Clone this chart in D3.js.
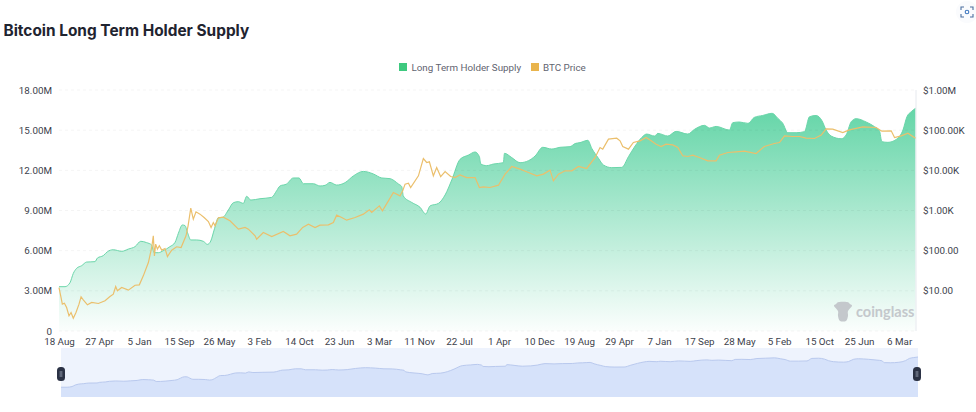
<!DOCTYPE html>
<html><head><meta charset="utf-8">
<script src="https://cdn.jsdelivr.net/npm/d3@7/dist/d3.min.js"></script>
<style>html,body{margin:0;padding:0;background:#fff;overflow:hidden}svg{display:block}text{font-family:Roboto,sans-serif}</style>
</head><body><svg id="c" width="976" height="412"></svg>
<script>
const title = "Bitcoin Long Term Holder Supply";
const seriesNames = ["Long Term Holder Supply","BTC Price"];
const tickDays = [0,252,504,756,1008,1260,1512,1764,2016,2268,2520,2772,3024,3276,3528,3780,4032,4284,4536,4788,5040,5292];
const tickLabels = ["18 Aug","27 Apr","5 Jan","15 Sep","26 May","3 Feb","14 Oct","23 Jun","3 Mar","11 Nov","22 Jul","1 Apr","10 Dec","19 Aug","29 Apr","7 Jan","17 Sep","28 May","5 Feb","15 Oct","25 Jun","6 Mar"];
const supplyTicks = [0,3,6,9,12,15,18];
const supplyTickLabels = ["0","3.00M","6.00M","9.00M","12.00M","15.00M","18.00M"];
const priceTicks = [10,100,1000,10000,100000,1000000];
const priceTickLabels = ["$10.00","$100.00","$1.00K","$10.00K","$100.00K","$1.00M"];
const supplyDays = [0,38,69,90,111,143,174,227,242,279,305,342,395,437,479,515,552,584,599,626,657,699,731,752,777,794,811,830,867,909,935,956,977,1004,1031,1067,1098,1130,1161,1182,1208,1266,1340,1371,1392,1434,1476,1512,1539,1602,1644,1676,1707,1749,1802,1854,1917,1980,2033,2085,2138,2159,2169,2222,2274,2310,2337,2390,2432,2474,2526,2579,2621,2648,2657,2694,2736,2799,2806,2852,2904,2957,2999,3047,3104,3156,3219,3251,3282,3331,3356,3398,3429,3482,3545,3587,3629,3671,3702,3751,3772,3835,3887,3961,4003,4066,4097,4139,4223,4244,4286,4339,4381,4433,4492,4528,4559,4591,4643,4696,4727,4769,4807,4832,4864,4927,4958,4990,5021,5084,5137,5168,5183,5221,5274,5316,5341,5368,5395];
const supplyValues = [3.31,3.31,3.6,4.3,4.68,4.88,5.15,5.18,5.45,5.63,5.92,6.07,5.95,6.12,6.3,6.7,6.6,6.42,5.85,5.85,6.0,6.3,6.62,7.3,7.92,7.87,7.3,6.8,6.8,6.7,6.47,6.72,7.54,8.46,8.49,9.04,9.58,9.66,9.53,10.06,9.78,9.88,9.98,10.48,10.83,10.98,11.43,11.43,11.0,11.0,10.83,10.88,11.1,10.9,11.08,11.58,11.92,11.73,11.43,11.38,10.98,10.78,10.08,9.6,9.24,8.74,9.34,9.53,10.16,11.28,12.82,13.14,13.37,13.02,12.47,12.35,12.47,12.57,13.27,12.95,12.57,12.72,13.07,13.72,13.59,13.72,13.77,14.0,14.07,14.24,13.64,12.9,12.4,12.2,12.22,13.02,13.82,14.46,14.71,14.56,14.76,14.56,14.91,14.71,15.06,15.36,15.16,15.28,15.01,15.56,15.61,15.51,15.96,16.1,16.26,15.88,15.51,14.81,14.81,14.89,16.0,16.1,15.68,15.01,14.56,14.36,14.64,15.63,15.86,15.61,15.26,14.96,14.14,14.09,14.31,15.01,16.0,16.38,16.63];
const priceDays = [0,13,21,34,48,63,76,90,107,126,139,153,179,206,248,290,321,342,357,368,395,437,479,506,531,563,584,594,601,609,620,632,647,668,683,710,741,769,800,813,830,846,863,888,914,941,958,972,983,1004,1035,1077,1130,1172,1193,1235,1245,1287,1340,1413,1455,1497,1535,1571,1613,1644,1697,1728,1749,1781,1812,1865,1917,1955,1970,2018,2037,2075,2106,2148,2165,2180,2201,2215,2264,2295,2316,2333,2358,2379,2404,2432,2467,2495,2526,2568,2621,2648,2673,2715,2768,2810,2852,2904,2957,3009,3051,3093,3114,3146,3188,3230,3272,3324,3377,3408,3425,3461,3513,3534,3551,3587,3618,3660,3698,3730,3761,3793,3824,3866,3898,3929,3961,3992,4034,4087,4139,4160,4213,4265,4317,4391,4443,4506,4538,4570,4622,4664,4706,4759,4801,4832,4874,4937,4979,5063,5147,5183,5242,5263,5305,5347,5395];
const priceValues = [12.1,6.8,4.66,4.93,3.85,2.39,2.89,2.09,2.89,4.66,7.1,5.97,4.48,5.13,4.84,5.64,7.2,8.26,12.8,10,12.1,10.4,13.8,14.1,23.6,50.7,120,234,74.3,145,109,132,103,113,71.6,103,125,120,234,415,1140,608,927,811,670,532,378,502,415,656,682,553,343,378,343,234,193,283,225,300,234,258,378,457,378,431,438,502,766,670,574,670,811,1040,892,1306,981,1742,2805,2317,3090,4529,4790,3740,7295,19700,15670,16300,7295,11750,7010,9330,7010,6610,7720,6610,6610,3740,3880,3740,4265,8040,12450,10700,8830,7295,8040,10100,5480,8040,9730,9730,12450,11120,20900,37000,33650,59700,63100,54200,39200,33650,49300,54200,65600,54200,44800,39200,44800,43100,37000,23000,22100,23900,20900,17200,17200,23900,27800,28800,30000,26200,39200,46500,49300,72300,69500,69500,63100,62100,75200,107900,105900,87500,101900,121000,116500,94400,96200,65600,72300,84100,63100];

const svg = d3.select("#c");
const defs = svg.append("defs");
const x = d3.scaleLinear().domain([0,5395]).range([59,915.5]);
const y = d3.scaleLinear().domain([0,18]).range([331,90]);
const yP = d3.scaleLog().domain([1,1000000]).range([331,90]);
const supply = supplyDays.map((d,i)=>[d,supplyValues[i]]);
const price = priceDays.map((d,i)=>[d,priceValues[i]]);

const g = defs.append("linearGradient").attr("id","ga").attr("gradientUnits","userSpaceOnUse")
  .attr("x1",0).attr("x2",0).attr("y1",y(16.6)).attr("y2",y(0));
g.append("stop").attr("offset",0).attr("stop-color","#3ecb92").attr("stop-opacity",.8);
g.append("stop").attr("offset",1).attr("stop-color","#3ecb92").attr("stop-opacity",.02);

svg.append("text").attr("x",3.5).attr("y",36).attr("font-size",15.4).attr("font-weight",700)
  .attr("fill","#1f2430").style("font-family","Inter").text(title);

// legend
const lg = svg.append("g").attr("font-size",9.8).attr("fill","#5f6470");
lg.append("rect").attr("x",399).attr("y",63).attr("width",8).attr("height",8).attr("fill","#3ec97f");
lg.append("text").attr("x",411.5).attr("y",71).text(seriesNames[0]);
lg.append("rect").attr("x",531).attr("y",63).attr("width",8).attr("height",8).attr("fill","#e9b44c");
lg.append("text").attr("x",543).attr("y",71).text(seriesNames[1]);

// area
svg.append("path").datum(supply).attr("fill","url(#ga)")
  .attr("d",d3.area().curve(d3.curveMonotoneX).x(d=>x(d[0])).y0(y(0)).y1(d=>y(d[1])));
svg.append("path").datum(supply).attr("fill","none").attr("stroke","#6bd6aa").attr("stroke-width",1)
  .attr("d",d3.line().curve(d3.curveMonotoneX).x(d=>x(d[0])).y(d=>y(d[1])));

// grid
svg.append("g").selectAll("line").data(supplyTicks).join("line")
  .attr("x1",59).attr("x2",915.5).attr("y1",d=>y(d)).attr("y2",d=>y(d))
  .attr("stroke","#000").attr("stroke-opacity",.045).attr("stroke-dasharray","3 3");
svg.append("line").attr("x1",916).attr("x2",916).attr("y1",90).attr("y2",331).attr("stroke","#e6e9ee");

// watermark
const wm = svg.append("g").attr("fill","#c4c8cc");
wm.append("path").datum([[-7,-8],[-4,-10],[4,-10],[7,-8],[9,-6],[5,-1],[5,4],[3,9],[-3,9],[-5,4],[-5,-1],[-9,-6]])
  .attr("transform","translate(843,312)").attr("d",d3.line().curve(d3.curveCardinalClosed));
wm.append("text").attr("x",856).attr("y",317).attr("font-size",14.5).attr("font-weight",700).text("coinglass").style("font-family","Lato");

// price
svg.append("path").datum(price).attr("fill","none").attr("stroke","#ebbf6c").attr("stroke-width",1.2)
  .attr("d",d3.line().x(d=>x(d[0])).y(d=>yP(d[1])));

// axes
function style(a){a.select(".domain").remove();a.selectAll(".tick line").remove();
  a.selectAll("text").attr("fill","#3c414b").attr("font-size",9.8).style("font-family","Roboto");}
svg.append("g").attr("transform","translate(0,331)")
  .call(d3.axisBottom(x).tickValues(tickDays).tickFormat((d,i)=>tickLabels[i]).tickSize(0).tickPadding(7)).call(style);
svg.append("g").attr("transform","translate(52,0)")
  .call(d3.axisLeft(y).tickValues(supplyTicks).tickFormat((d,i)=>supplyTickLabels[i]).tickSize(0).tickPadding(0)).call(style);
svg.append("g").attr("transform","translate(923,0)")
  .call(d3.axisRight(yP).tickValues(priceTicks).tickFormat((d,i)=>priceTickLabels[i]).tickSize(0).tickPadding(0)).call(style);

// minimap
const mx = d3.scaleLinear().domain([0,5395]).range([61,918]);
const my = d3.scaleLinear().domain([-1,20.6]).range([397,348]);
svg.append("rect").attr("x",61).attr("y",348).attr("width",857).attr("height",49).attr("fill","#eef3fd");
svg.append("path").datum(supply).attr("fill","#d6e2fa").attr("stroke","none")
  .attr("d",d3.area().curve(d3.curveMonotoneX).x(d=>mx(d[0])).y0(397).y1(d=>my(d[1])));
svg.append("path").datum(supply).attr("fill","none").attr("stroke","#b9c9ee").attr("stroke-width",1)
  .attr("d",d3.line().curve(d3.curveMonotoneX).x(d=>mx(d[0])).y(d=>my(d[1])));
[61,917].forEach(cx=>{
  svg.append("rect").attr("x",cx-4).attr("y",367).attr("width",8).attr("height",14).attr("rx",3.5).attr("fill","#2b3245");
  svg.append("line").attr("x1",cx-.8).attr("x2",cx-.8).attr("y1",371).attr("y2",377).attr("stroke","#9aa3b5").attr("stroke-width",.7);
  svg.append("line").attr("x1",cx+.8).attr("x2",cx+.8).attr("y1",371).attr("y2",377).attr("stroke","#9aa3b5").attr("stroke-width",.7);
});

// screenshot icon
const ic = svg.append("g").attr("transform","translate(967,12)");
ic.append("circle").attr("r",11).attr("fill","#fafbfd");
ic.append("path").attr("d","M-6,-2V-5H-3M3,-5H6V-2M6,2V5H3M-3,5H-6V2").attr("fill","none").attr("stroke","#4a6f9f").attr("stroke-width",1.1);
ic.append("circle").attr("r",1.8).attr("fill","none").attr("stroke","#3f78c0").attr("stroke-width",1.1);
</script></body></html>
